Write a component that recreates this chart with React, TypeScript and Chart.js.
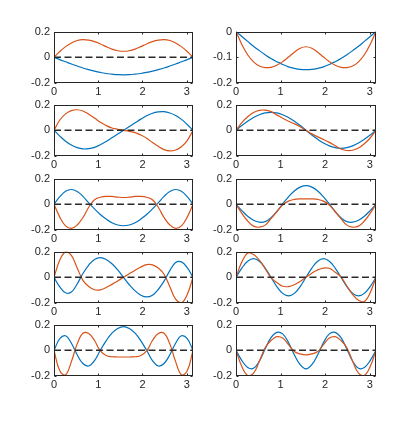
import { useEffect, useRef } from "react";
import { Chart, registerables } from "chart.js";
Chart.register(...registerables);

const xs = [0, 0.131, 0.262, 0.393, 0.524, 0.654, 0.785, 0.916, 1.047, 1.178, 1.309, 1.44, 1.571, 1.702, 1.833, 1.963, 2.094, 2.225, 2.356, 2.487, 2.618, 2.749, 2.88, 3.011, 3.142];
const xTicks = [0, 1, 2, 3];
const yTicksA = [-0.2, 0, 0.2];
const yTicksB = [-0.2, -0.1, 0];

const blue1L = [0, -0.018, -0.035, -0.052, -0.068, -0.083, -0.096, -0.108, -0.118, -0.126, -0.131, -0.135, -0.136, -0.135, -0.131, -0.126, -0.118, -0.108, -0.096, -0.083, -0.068, -0.052, -0.035, -0.018, 0];
const orange1L = [0, 0.045, 0.083, 0.112, 0.131, 0.138, 0.134, 0.122, 0.104, 0.083, 0.064, 0.051, 0.047, 0.051, 0.064, 0.083, 0.104, 0.122, 0.134, 0.138, 0.131, 0.112, 0.083, 0.045, 0];
const blue1R = [0, -0.019, -0.038, -0.057, -0.074, -0.09, -0.105, -0.117, -0.128, -0.137, -0.143, -0.147, -0.148, -0.147, -0.143, -0.137, -0.128, -0.117, -0.105, -0.09, -0.074, -0.057, -0.038, -0.019, 0];
const orange1R = [0, -0.05, -0.09, -0.118, -0.134, -0.14, -0.139, -0.131, -0.117, -0.099, -0.08, -0.065, -0.059, -0.065, -0.08, -0.099, -0.117, -0.131, -0.139, -0.14, -0.134, -0.118, -0.09, -0.05, 0];
const blue2L = [0, -0.045, -0.085, -0.115, -0.135, -0.145, -0.143, -0.133, -0.113, -0.087, -0.058, -0.029, 0, 0.029, 0.058, 0.087, 0.113, 0.133, 0.143, 0.145, 0.135, 0.115, 0.085, 0.045, 0];
const orange2L = [0, 0.08, 0.128, 0.153, 0.16, 0.15, 0.125, 0.095, 0.062, 0.037, 0.018, 0.008, 0, -0.008, -0.018, -0.037, -0.062, -0.095, -0.125, -0.15, -0.16, -0.153, -0.128, -0.08, 0];
const blue2R = [0, 0.037, 0.07, 0.099, 0.121, 0.135, 0.14, 0.135, 0.121, 0.099, 0.07, 0.037, 0, -0.037, -0.07, -0.099, -0.121, -0.135, -0.14, -0.135, -0.121, -0.099, -0.07, -0.037, 0];
const orange2R = [0, 0.06, 0.105, 0.138, 0.155, 0.157, 0.145, 0.12, 0.094, 0.071, 0.051, 0.028, 0, -0.028, -0.051, -0.071, -0.094, -0.12, -0.145, -0.157, -0.155, -0.138, -0.105, -0.06, 0];
const blue3L = [0, 0.059, 0.101, 0.115, 0.1, 0.062, 0.011, -0.036, -0.079, -0.115, -0.144, -0.161, -0.167, -0.161, -0.144, -0.115, -0.079, -0.036, 0.011, 0.062, 0.1, 0.115, 0.101, 0.059, 0];
const orange3L = [0, -0.1, -0.168, -0.188, -0.161, -0.103, -0.023, 0.035, 0.055, 0.062, 0.061, 0.056, 0.053, 0.056, 0.061, 0.062, 0.055, 0.035, -0.023, -0.103, -0.161, -0.188, -0.168, -0.1, 0];
const blue3R = [0, -0.049, -0.093, -0.124, -0.139, -0.135, -0.105, -0.056, 0.003, 0.058, 0.104, 0.134, 0.145, 0.134, 0.104, 0.058, 0.003, -0.056, -0.105, -0.135, -0.139, -0.124, -0.093, -0.049, 0];
const orange3R = [0, -0.07, -0.13, -0.17, -0.178, -0.162, -0.112, -0.058, -0.005, 0.025, 0.038, 0.042, 0.042, 0.042, 0.038, 0.025, -0.005, -0.058, -0.112, -0.162, -0.178, -0.17, -0.13, -0.07, 0];
const blue4L = [0, -0.075, -0.12, -0.115, -0.052, 0.03, 0.095, 0.139, 0.153, 0.139, 0.106, 0.058, 0, -0.058, -0.106, -0.139, -0.153, -0.139, -0.095, -0.03, 0.052, 0.115, 0.12, 0.075, 0];
const orange4L = [0, 0.134, 0.198, 0.17, 0.073, -0.024, -0.072, -0.097, -0.098, -0.08, -0.055, -0.028, 0, 0.028, 0.055, 0.08, 0.098, 0.097, 0.072, 0.024, -0.073, -0.17, -0.198, -0.134, 0];
const blue4R = [0, 0.072, 0.125, 0.145, 0.125, 0.072, 0, -0.072, -0.125, -0.145, -0.125, -0.072, 0, 0.072, 0.125, 0.145, 0.125, 0.072, 0, -0.072, -0.125, -0.145, -0.125, -0.072, 0];
const orange4R = [0, 0.12, 0.188, 0.178, 0.134, 0.068, -0.003, -0.04, -0.07, -0.072, -0.058, -0.032, 0, 0.032, 0.058, 0.072, 0.07, 0.04, 0.003, -0.068, -0.134, -0.178, -0.188, -0.12, 0];
const blue5L = [0, 0.09, 0.113, 0.055, -0.035, -0.103, -0.122, -0.08, 0, 0.074, 0.133, 0.17, 0.185, 0.17, 0.133, 0.074, 0, -0.08, -0.122, -0.103, -0.035, 0.055, 0.113, 0.09, 0];
const orange5L = [0, -0.16, -0.19, -0.088, 0.05, 0.133, 0.13, 0.076, -0.005, -0.04, -0.05, -0.052, -0.052, -0.052, -0.05, -0.04, -0.005, 0.076, 0.13, 0.133, 0.05, -0.088, -0.19, -0.16, 0];
const blue5R = [0, -0.08, -0.133, -0.14, -0.085, 0.01, 0.098, 0.14, 0.128, 0.06, -0.035, -0.112, -0.145, -0.112, -0.035, 0.06, 0.128, 0.14, 0.098, 0.01, -0.085, -0.14, -0.133, -0.08, 0];
const orange5R = [0, -0.127, -0.196, -0.178, -0.086, 0.02, 0.076, 0.106, 0.095, 0.044, -0.01, -0.028, -0.035, -0.028, -0.01, 0.044, 0.095, 0.106, 0.076, 0.02, -0.086, -0.178, -0.196, -0.127, 0];

const panels = [
  { row: 0, col: 0, blue: blue1L, orange: orange1L, yMin: -0.2, yMax: 0.2, yTicks: yTicksA },
  { row: 0, col: 1, blue: blue1R, orange: orange1R, yMin: -0.2, yMax: 0, yTicks: yTicksB },
  { row: 1, col: 0, blue: blue2L, orange: orange2L, yMin: -0.2, yMax: 0.2, yTicks: yTicksA },
  { row: 1, col: 1, blue: blue2R, orange: orange2R, yMin: -0.2, yMax: 0.2, yTicks: yTicksA },
  { row: 2, col: 0, blue: blue3L, orange: orange3L, yMin: -0.2, yMax: 0.2, yTicks: yTicksA },
  { row: 2, col: 1, blue: blue3R, orange: orange3R, yMin: -0.2, yMax: 0.2, yTicks: yTicksA },
  { row: 3, col: 0, blue: blue4L, orange: orange4L, yMin: -0.2, yMax: 0.2, yTicks: yTicksA },
  { row: 3, col: 1, blue: blue4R, orange: orange4R, yMin: -0.2, yMax: 0.2, yTicks: yTicksA },
  { row: 4, col: 0, blue: blue5L, orange: orange5L, yMin: -0.2, yMax: 0.2, yTicks: yTicksA },
  { row: 4, col: 1, blue: blue5R, orange: orange5R, yMin: -0.2, yMax: 0.2, yTicks: yTicksA },
];

const COL_LEFT = [54, 236];
const COL_W = [139, 140];
const ROW_TOP = [31, 104, 178, 251, 324];
const AREA_H = 52;
const PAD = { left: 2, right: 8, top: 10, bottom: 2 };
const YAXIS_W = 34;
const XAXIS_H = 18;
const AXIS_COLOR = "#262626";
const FONT = { family: "'Liberation Sans', Arial, sans-serif", size: 11 };

const boxPlugin = {
  id: "matlabBox",
  afterDatasetsDraw(chart: any) {
    const { ctx, chartArea: a, scales } = chart;
    const yt: number[] = chart.options.plugins.matlabBox.yTicks;
    ctx.save();
    ctx.strokeStyle = AXIS_COLOR;
    ctx.lineWidth = 1;
    const l = Math.round(a.left) + 0.5;
    const r = Math.round(a.right) - 0.5;
    const t = Math.round(a.top) + 0.5;
    const b = Math.round(a.bottom) - 0.5;
    ctx.strokeRect(l, t, r - l, b - t);
    ctx.beginPath();
    for (const v of xTicks) {
      const px = Math.round(scales.x.getPixelForValue(v)) + 0.5;
      ctx.moveTo(px, b);
      ctx.lineTo(px, b - 2);
      ctx.moveTo(px, t);
      ctx.lineTo(px, t + 2);
    }
    for (const v of yt) {
      const py = Math.round(scales.y.getPixelForValue(v)) + 0.5;
      ctx.moveTo(l, py);
      ctx.lineTo(l + 2, py);
      ctx.moveTo(r, py);
      ctx.lineTo(r - 2, py);
    }
    ctx.stroke();
    ctx.restore();
  },
};

function Panel({ p }: { p: any }) {
  const ref = useRef<HTMLCanvasElement>(null);
  useEffect(() => {
    const toPts = (arr: number[]) => arr.map((y, i) => ({ x: xs[i], y }));
    const datasets: any[] = [];
    if (p.yMax > 0) {
      datasets.push({
        data: [{ x: 0, y: 0 }, { x: Math.PI, y: 0 }],
        borderColor: "#2a2a2a",
        borderWidth: 1.4,
        borderDash: [7, 3.5],
        pointRadius: 0,
      });
    }
    datasets.push(
      {
        data: toPts(p.orange),
        borderColor: "#D95319",
        borderWidth: 1.2,
        pointRadius: 0,
        tension: 0.4,
      },
      {
        data: toPts(p.blue),
        borderColor: "#0072BD",
        borderWidth: 1.2,
        pointRadius: 0,
        tension: 0.4,
      }
    );
    const chart = new Chart(ref.current as HTMLCanvasElement, {
      type: "line",
      data: { datasets },
      options: {
        animation: false,
        responsive: false,
        events: [],
        layout: { padding: PAD },
        plugins: {
          legend: { display: false },
          tooltip: { enabled: false },
          matlabBox: { yTicks: p.yTicks },
        } as any,
        scales: {
          x: {
            type: "linear",
            min: 0,
            max: Math.PI,
            grid: { display: false, drawTicks: false },
            border: { display: false },
            afterBuildTicks: (s: any) => {
              s.ticks = xTicks.map((v) => ({ value: v }));
            },
            afterFit: (s: any) => {
              s.height = XAXIS_H;
            },
            ticks: {
              font: FONT,
              color: AXIS_COLOR,
              padding: 2,
              maxRotation: 0,
              autoSkip: false,
              callback: (v: any) => String(v),
            },
          },
          y: {
            type: "linear",
            min: p.yMin,
            max: p.yMax,
            grid: { display: false, drawTicks: false },
            border: { display: false },
            afterBuildTicks: (s: any) => {
              s.ticks = p.yTicks.map((v: number) => ({ value: v }));
            },
            afterFit: (s: any) => {
              s.width = YAXIS_W;
            },
            ticks: {
              font: FONT,
              color: AXIS_COLOR,
              padding: 4,
              autoSkip: false,
              callback: (v: any) => String(v),
            },
          },
        },
      },
      plugins: [boxPlugin],
    });
    return () => chart.destroy();
  }, [p]);

  const w = PAD.left + YAXIS_W + COL_W[p.col] + PAD.right;
  const h = PAD.top + AREA_H + XAXIS_H + PAD.bottom;
  const left = COL_LEFT[p.col] - YAXIS_W - PAD.left;
  const top = ROW_TOP[p.row] - PAD.top;
  return (
    <canvas
      ref={ref}
      width={w}
      height={h}
      style={{ position: "absolute", left, top, width: w, height: h }}
    />
  );
}

export default function App() {
  return (
    <div
      style={{
        position: "fixed",
        left: 0,
        top: 0,
        width: 415,
        height: 424,
        background: "#fff",
      }}
    >
      {panels.map((p, i) => (
        <Panel key={i} p={p} />
      ))}
    </div>
  );
}
